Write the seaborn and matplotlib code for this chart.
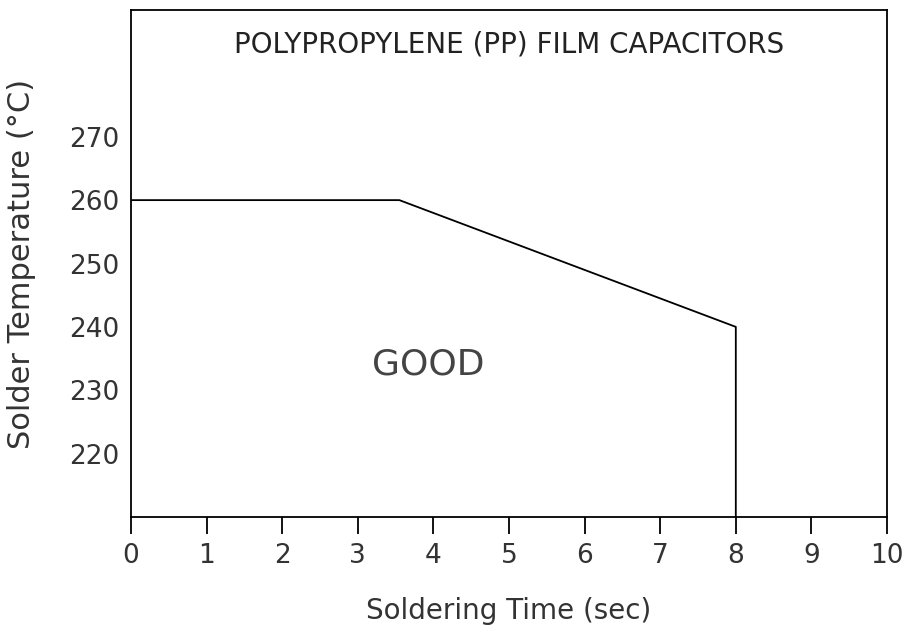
import matplotlib
matplotlib.use("Agg")
import matplotlib.pyplot as plt
import seaborn as sns
import pandas as pd

# soldering profile limit curve
time_sec = [0, 3.55, 8, 8]
temp_c = [260, 260, 240, 210]

x_ticks = [0, 1, 2, 3, 4, 5, 6, 7, 8, 9, 10]
y_ticks = [220, 230, 240, 250, 260, 270]

title = "POLYPROPYLENE (PP) FILM CAPACITORS"
region_label = "GOOD"

sns.set_style("white")
plt.rcParams['font.family'] = ['DejaVu Sans']

df = pd.DataFrame({"time": time_sec, "temp": temp_c})

fig = plt.figure(figsize=(9.12, 6.25), dpi=100)
ax = fig.add_axes([0.1436, 0.1728, 0.829, 0.8112])

sns.lineplot(data=df, x="time", y="temp", sort=False, color="black",
             linewidth=1.3, ax=ax, estimator=None)

ax.set_xlim(0, 10)
ax.set_ylim(210, 290)
ax.set_xticks(x_ticks)
ax.set_yticks(y_ticks)
ax.tick_params(axis="x", bottom=True, direction="out", length=12, width=1.3,
               labelsize=19, pad=7, labelcolor="#333333", color="black")
ax.tick_params(axis="y", left=False, length=0, labelsize=19, pad=8,
               labelcolor="#333333")
for sp in ax.spines.values():
    sp.set_color("black")
    sp.set_linewidth(1.3)

ax.set_xlabel("Soldering Time (sec)", fontsize=20, labelpad=20, color="#333333")
ax.set_ylabel("Solder Temperature (°C)", fontsize=22, labelpad=24, color="#333333")

ax.text(5, 284.5, title, ha="center", va="center", fontsize=20, color="#222222")
ax.text(3.93, 234, region_label, ha="center", va="center", fontsize=26,
        color="#444444")

fig.savefig("out.png", dpi=100)
